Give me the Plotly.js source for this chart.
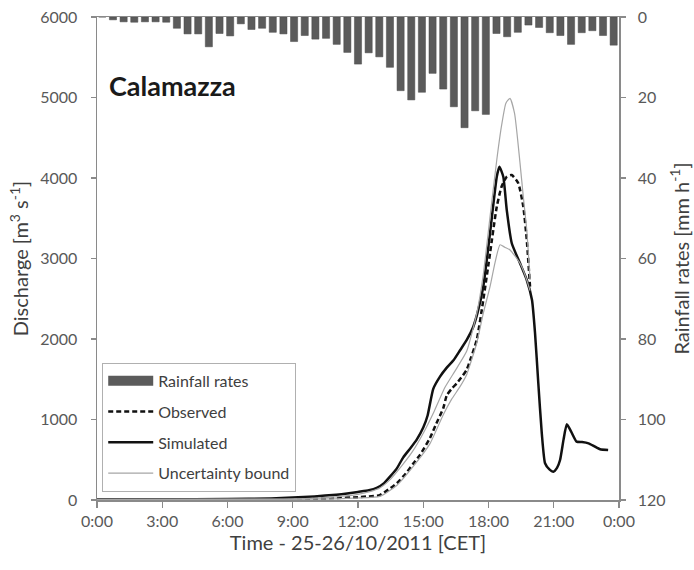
<!DOCTYPE html>
<html>
<head>
<meta charset="utf-8">
<script src="https://cdn.plot.ly/plotly-3.0.1.min.js"></script>
<style>
  html, body { margin: 0; padding: 0; background: #fff; }
  #chart { width: 694px; height: 570px; }
</style>
</head>
<body>
<div id="chart"></div>
<script>
// Half-hourly rainfall rates [mm/h], 25-26/10/2011
const rainTimes = ["0:00","0:30","1:00","1:30","2:00","2:30","3:00","3:30","4:00","4:30",
  "5:00","5:30","6:00","6:30","7:00","7:30","8:00","8:30","9:00","9:30",
  "10:00","10:30","11:00","11:30","12:00","12:30","13:00","13:30","14:00","14:30",
  "15:00","15:30","16:00","16:30","17:00","17:30","18:00","18:30","19:00","19:30",
  "20:00","20:30","21:00","21:30","22:00","22:30","23:00","23:30","24:00"];
const rainRates = [0, 0.7, 1.2, 1.3, 1.2, 1.2, 1.3, 2.8, 4.2, 4.2,
  7.4, 4.1, 4.7, 1.7, 3.1, 2.8, 3.8, 4.2, 6.1, 4.6,
  5.5, 5.3, 6.8, 8.8, 11.7, 8.9, 9.9, 12.5, 18.3, 20.6,
  18.7, 14.0, 17.9, 22.3, 27.5, 23.3, 24.2, 4.1, 4.9, 3.8,
  2.0, 2.6, 3.9, 4.6, 6.8, 3.9, 3.4, 4.6, 7.0];

// Observed discharge [m3/s] (time in hours from 0:00 of 25/10)
const obsHours = [0, 3, 6, 9, 10, 11, 12, 12.5, 13.0, 13.4, 13.78, 14.2, 14.55, 14.85, 15.31, 15.6,
  15.92, 16.08, 16.3, 16.54, 16.8, 17.0, 17.2, 17.46, 17.76, 18.07, 18.38, 18.6, 18.84, 19.07,
  19.37, 19.6, 19.76, 19.91];
const obsQ = [5, 5, 5, 10, 15, 25, 35, 45, 60, 130, 207, 330, 456, 560, 770, 950,
  1140, 1300, 1380, 1450, 1540, 1620, 1770, 1990, 2484, 3064, 3644, 3892, 4016, 4037,
  3934, 3644, 3230, 2650];

// Simulated discharge [m3/s]
const simHours = [0, 3, 6, 8, 9, 10, 11, 11.5, 12, 12.5, 12.86, 13.2, 13.47, 13.78, 14.08, 14.4,
  14.7, 15.0, 15.2, 15.46, 15.77, 16.1, 16.4, 16.7, 17.0, 17.3, 17.5, 17.76, 18.07, 18.38,
  18.5, 18.68, 18.84, 19.07, 19.45, 19.76, 20.0, 20.14, 20.29, 20.45, 20.6, 20.8, 20.98, 21.15,
  21.29, 21.45, 21.6, 21.8, 22.05, 22.3, 22.6, 22.85, 23.13, 23.5];
const simQ = [10, 10, 12, 20, 30, 45, 65, 80, 100, 120, 150, 210, 290, 390, 530, 640,
  750, 900, 1050, 1380, 1532, 1650, 1739, 1863, 1988, 2153, 2330, 2650, 3313, 4016,
  4140, 4016, 3602, 3189, 2940, 2733, 2484, 2070, 1450, 828, 456, 380, 352, 400,
  497, 750, 940, 850, 725, 720, 704, 670, 630, 621];

// Uncertainty bounds [m3/s]
const upHours = [0, 9, 11, 12, 12.5, 13, 13.5, 14, 14.5, 15, 15.5, 16, 16.5, 17, 17.46, 17.76,
  18.07, 18.38, 18.6, 18.8, 18.99, 19.2, 19.45, 19.6, 19.76, 19.91];
const upQ = [10, 15, 40, 70, 100, 150, 260, 420, 600, 830, 1100, 1400, 1620, 1850, 2319, 2800,
  3519, 4224, 4650, 4930, 4990, 4800, 4182, 3768, 3354, 2733];
const lowHours = [0, 9, 11, 12, 13, 13.78, 14.55, 15.31, 15.92, 16.3, 16.69, 17.0, 17.15, 17.46,
  17.76, 18.07, 18.3, 18.53, 18.75, 18.99, 19.45, 19.76, 19.91];
const lowQ = [5, 8, 15, 25, 45, 180, 420, 700, 1060, 1250, 1408, 1560, 1680, 1950,
  2319, 2650, 2950, 3170, 3140, 3106, 2940, 2733, 2600];

// Time axis labels
const timeTicks = [0, 3, 6, 9, 12, 15, 18, 21, 24];
const timeLabels = ["0:00", "3:00", "6:00", "9:00", "12:00", "15:00", "18:00", "21:00", "0:00"];

const FONT = "Lato, 'Open Sans', 'DejaVu Sans', sans-serif";
const AXIS_COLOR = "#8a8a8a";
const BAR_COLOR = "#5b5b5b";
const TICK_FONT = { family: FONT, size: 16, color: "#595959" };
const TITLE_FONT = { family: FONT, size: 20, color: "#404040" };

const traces = [
  // wide swatch for the rainfall entry in the legend
  {
    type: "scatter", mode: "lines", name: "Rainfall rates", x: [null], y: [null],
    legendgroup: "rain", showlegend: true, hoverinfo: "skip",
    line: { color: BAR_COLOR, width: 10 }
  },
  {
    type: "scatter", mode: "lines", name: "Observed", x: obsHours, y: obsQ,
    legendgroup: "obs",
    line: { color: "#111", width: 2.5, dash: "5px,3px", shape: "spline", smoothing: 0.5 }
  },
  {
    type: "scatter", mode: "lines", name: "Simulated", x: simHours, y: simQ,
    legendgroup: "sim",
    line: { color: "#111", width: 2.5, shape: "spline", smoothing: 0.5 }
  },
  {
    type: "scatter", mode: "lines", name: "Uncertainty bound", x: upHours, y: upQ,
    legendgroup: "unc",
    line: { color: "#a6a6a6", width: 1.2, shape: "spline", smoothing: 0.5 }
  },
  {
    type: "scatter", mode: "lines", name: "Uncertainty bound", x: lowHours, y: lowQ,
    legendgroup: "unc", showlegend: false,
    line: { color: "#a6a6a6", width: 1.2, shape: "spline", smoothing: 0.5 }
  },
  // rainfall bars hang from the top on the reversed right-hand axis
  {
    type: "bar", name: "Rainfall rates", x: rainTimes, y: rainRates,
    xaxis: "x2", yaxis: "y2", showlegend: false,
    marker: { color: BAR_COLOR, line: { color: "#4a4a4a", width: 0.5 } },
    hoverinfo: "x+y"
  }
];

const layout = {
  width: 694, height: 570,
  margin: { l: 97, r: 75, t: 17, b: 70, pad: 0 },
  paper_bgcolor: "#fff", plot_bgcolor: "#fff",
  font: { family: FONT, color: "#404040" },
  showlegend: true,
  bargap: 0.33,
  xaxis: {
    range: [0, 24], tickvals: timeTicks, ticktext: timeLabels,
    showgrid: false, zeroline: false,
    showline: true, linecolor: AXIS_COLOR, linewidth: 1.5, mirror: true,
    ticks: "outside", ticklen: 6, tickwidth: 1.2, tickcolor: AXIS_COLOR,
    tickfont: TICK_FONT,
    title: { text: "Time - 25-26/10/2011 [CET]", font: TITLE_FONT, standoff: 6 }
  },
  yaxis: {
    range: [0, 6000], dtick: 1000,
    showgrid: false, zeroline: false,
    showline: true, linecolor: AXIS_COLOR, linewidth: 1.5,
    ticks: "outside", ticklen: 5, tickwidth: 1.2, tickcolor: AXIS_COLOR,
    ticklabelstandoff: 10,
    tickfont: TICK_FONT,
    title: { text: "Discharge [m<sup>3</sup> s<sup>-1</sup>]", font: TITLE_FONT, standoff: 6 }
  },
  xaxis2: {
    type: "category", overlaying: "x", anchor: "y2",
    categoryorder: "array", categoryarray: rainTimes,
    range: [-0.5, rainTimes.length - 0.5],
    visible: false, showgrid: false, zeroline: false
  },
  yaxis2: {
    overlaying: "y", side: "right", anchor: "x",
    range: [120, 0], dtick: 20,
    showgrid: false, zeroline: false,
    showline: true, linecolor: AXIS_COLOR, linewidth: 1.5,
    ticks: "outside", ticklen: 5, tickwidth: 1.2, tickcolor: AXIS_COLOR,
    ticklabelstandoff: 9,
    tickfont: TICK_FONT,
    title: { text: "Rainfall rates [mm h<sup>-1</sup>]", font: TITLE_FONT, standoff: 10 }
  },
  legend: {
    x: 0.01, y: 0.284, xanchor: "left", yanchor: "top",
    bgcolor: "#fff", bordercolor: "#b0b0b0", borderwidth: 1,
    font: { family: FONT, size: 16, color: "#404040" },
    traceorder: "grouped", tracegroupgap: 7, itemwidth: 45
  },
  annotations: [
    {
      text: "<b>Calamazza</b>", xref: "paper", yref: "paper",
      x: 0.019, y: 0.859, xanchor: "left", yanchor: "middle",
      showarrow: false, font: { family: FONT, size: 27, color: "#1a1a1a" }
    }
  ]
};

Plotly.newPlot("chart", traces, layout, { displayModeBar: false, staticPlot: true });
</script>
</body>
</html>
